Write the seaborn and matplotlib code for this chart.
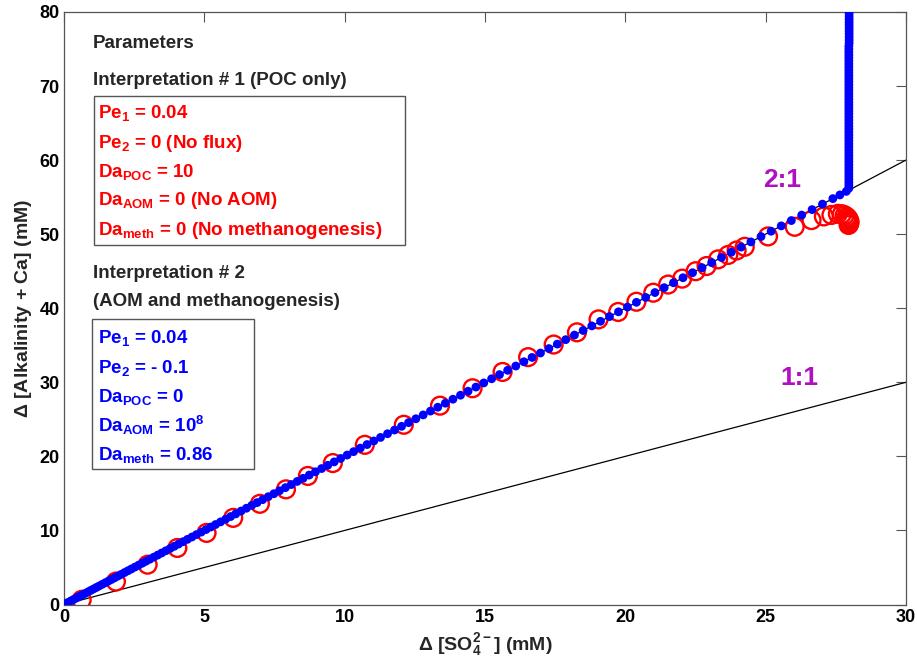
import matplotlib
matplotlib.use("Agg")
import matplotlib.pyplot as plt
import seaborn as sns
import pandas as pd
from matplotlib.patches import Rectangle

# ---------------- data ----------------
ref_x = [0, 30]
ref_21 = [0, 60]
ref_11 = [0, 30]

poc_x = [0.63, 1.85, 2.98, 4.04, 5.08, 6.03, 6.98, 7.91, 8.69, 9.58, 10.72, 12.11,
         13.40, 14.56, 15.63, 16.54, 17.45, 18.28, 19.05, 19.75, 20.40, 21.00, 21.53,
         22.03, 22.51, 22.90, 23.31, 23.67, 23.97, 24.26, 25.09, 26.04, 26.64, 27.08,
         27.35, 27.58, 27.72, 27.82, 27.89, 27.94, 27.97, 27.99, 27.99, 27.98, 27.96]
poc_y = [0.64, 3.10, 5.38, 7.64, 9.67, 11.70, 13.60, 15.55, 17.36, 19.10, 21.56, 24.27,
         26.85, 29.20, 31.40, 33.40, 35.10, 36.75, 38.50, 39.50, 40.88, 42.10, 43.20,
         44.00, 45.00, 45.70, 46.60, 47.20, 47.80, 48.30, 49.70, 51.00, 51.90, 52.40,
         52.60, 52.75, 52.70, 52.55, 52.35, 52.15, 51.95, 51.75, 51.55, 51.40, 51.25]

aom_x = [0.05, 0.15, 0.25, 0.35, 0.45, 0.55, 0.65, 0.75, 0.85, 0.95, 1.05, 1.15, 1.25,
         1.36, 1.47, 1.58, 1.69, 1.80, 1.92, 2.04, 2.16, 2.28, 2.40, 2.53, 2.66, 2.79,
         2.92, 3.06, 3.20, 3.34, 3.48, 3.63, 3.78, 3.93, 4.08, 4.24, 4.40, 4.56, 4.72,
         4.89, 5.06, 5.23, 5.40, 5.58, 5.76, 5.94, 6.12, 6.31, 6.50, 6.69, 6.88, 7.08,
         7.28, 7.48, 7.68, 7.89, 8.10, 8.31, 8.52, 8.74, 8.96, 9.18, 9.40, 9.63, 9.86,
         10.09, 10.32, 10.56, 10.80, 11.04, 11.28, 11.53, 11.78, 12.03, 12.28, 12.54,
         12.80, 13.06, 13.32, 13.59, 13.86, 14.13, 14.40, 14.68, 14.96, 15.24, 15.52,
         15.81, 16.10, 16.39, 16.68, 16.98, 17.28, 17.58, 17.88, 18.19, 18.50, 18.81,
         19.12, 19.44, 19.76, 20.08, 20.40, 20.73, 21.06, 21.39, 21.72, 22.06, 22.40,
         22.74, 23.08, 23.43, 23.78, 24.13, 24.48, 24.84, 25.20, 25.56, 25.92, 26.29,
         26.66, 27.03, 27.40, 27.65, 27.88,
         27.97, 27.97, 27.97, 27.97, 27.97, 27.97, 27.97, 27.97, 27.97, 27.97, 27.97,
         27.97, 27.97, 27.97, 27.97, 27.97, 27.97, 27.97, 27.97, 27.97, 27.97, 27.97,
         27.97, 27.97, 27.97, 27.97, 27.97, 27.97, 27.97, 27.97, 27.97, 27.97, 27.97,
         27.97, 27.97, 27.97, 27.97, 27.97, 27.97, 27.97, 27.97, 27.97, 27.97, 27.97,
         27.97, 27.97, 27.97, 27.97, 27.97, 27.98, 27.98, 27.98, 27.98, 27.98, 27.98,
         27.98, 27.98, 27.98, 27.98, 27.98]
aom_y = [0.10, 0.30, 0.50, 0.70, 0.90, 1.10, 1.30, 1.50, 1.70, 1.90, 2.10, 2.30, 2.50,
         2.72, 2.94, 3.16, 3.38, 3.60, 3.84, 4.08, 4.32, 4.56, 4.80, 5.06, 5.32, 5.58,
         5.84, 6.12, 6.40, 6.68, 6.96, 7.26, 7.56, 7.86, 8.16, 8.48, 8.80, 9.12, 9.44,
         9.78, 10.12, 10.46, 10.80, 11.16, 11.52, 11.88, 12.24, 12.62, 13.00, 13.38,
         13.76, 14.16, 14.56, 14.96, 15.36, 15.78, 16.20, 16.62, 17.04, 17.48, 17.92,
         18.36, 18.80, 19.26, 19.72, 20.18, 20.64, 21.12, 21.60, 22.08, 22.56, 23.06,
         23.56, 24.06, 24.56, 25.08, 25.60, 26.12, 26.64, 27.18, 27.72, 28.26, 28.80,
         29.36, 29.92, 30.48, 31.04, 31.62, 32.20, 32.78, 33.36, 33.96, 34.56, 35.16,
         35.76, 36.38, 37.00, 37.62, 38.24, 38.88, 39.52, 40.16, 40.80, 41.46, 42.12,
         42.78, 43.44, 44.12, 44.80, 45.48, 46.16, 46.86, 47.56, 48.26, 48.96, 49.68,
         50.40, 51.12, 51.84, 52.58, 53.32, 54.06, 54.80, 55.30, 55.78,
         56.20, 56.60, 57.00, 57.40, 57.80, 58.20, 58.60, 59.00, 59.40, 59.80, 60.20,
         60.60, 61.00, 61.40, 61.80, 62.20, 62.60, 63.00, 63.40, 63.80, 64.20, 64.60,
         65.00, 65.40, 65.80, 66.20, 66.60, 67.00, 67.40, 67.80, 68.20, 68.60, 69.00,
         69.40, 69.80, 70.20, 70.60, 71.00, 71.40, 71.80, 72.20, 72.60, 73.00, 73.40,
         73.80, 74.20, 74.60, 75.00, 75.40, 75.80, 76.20, 76.60, 77.00, 77.40, 77.80,
         78.20, 78.60, 79.00, 79.40, 79.80]

x_ticks = [0, 5, 10, 15, 20, 25, 30]
y_ticks = [0, 10, 20, 30, 40, 50, 60, 70, 80]

params1 = ["Pe$_{1}$ = 0.04", "Pe$_{2}$ = 0 (No flux)", "Da$_{POC}$ = 10",
           "Da$_{AOM}$ = 0 (No AOM)", "Da$_{meth}$ = 0 (No methanogenesis)"]
params2 = ["Pe$_{1}$ = 0.04", "Pe$_{2}$ = - 0.1", "Da$_{POC}$ = 0",
           "Da$_{AOM}$ = 10$^{8}$", "Da$_{meth}$ = 0.86"]

# ---------------- style ----------------
sns.set_style("white")
plt.rcParams['font.family'] = ['Liberation Sans', 'DejaVu Sans']
plt.rcParams['font.weight'] = 'bold'
plt.rcParams['mathtext.fontset'] = 'custom'
plt.rcParams['mathtext.rm'] = 'Liberation Sans:bold'
plt.rcParams['mathtext.bf'] = 'Liberation Sans:bold'
plt.rcParams['mathtext.it'] = 'Liberation Sans:bold'
plt.rcParams['mathtext.default'] = 'bf'

fig = plt.figure(figsize=(9.17, 6.66), dpi=100)
ax = fig.add_axes([0.0698, 0.0923, 0.918, 0.8897])

df_poc = pd.DataFrame({"x": poc_x, "y": poc_y})
df_aom = pd.DataFrame({"x": aom_x, "y": aom_y})

ax.plot(ref_x, ref_21, color='black', lw=0.9, zorder=1)
ax.plot(ref_x, ref_11, color='black', lw=0.9, zorder=1)

sns.scatterplot(data=df_poc, x="x", y="y", ax=ax, marker='o', s=165,
                facecolors='none', edgecolor='#FF0000', linewidth=1.7, zorder=2)
sns.scatterplot(data=df_aom, x="x", y="y", ax=ax, marker='o', s=40,
                color='#0000FF', edgecolor='none', linewidth=0, zorder=3)

ax.set_xlim(0, 30)
ax.set_ylim(0, 80)
ax.set_xticks(x_ticks)
ax.set_yticks(y_ticks)
ax.tick_params(direction='in', length=7, width=0.8, top=True, right=True,
               labelsize=13, colors='#555555', labelcolor='black', pad=3)
for lab in ax.get_xticklabels() + ax.get_yticklabels():
    lab.set_fontweight('bold')
for sp in ax.spines.values():
    sp.set_color('#555555')
    sp.set_linewidth(0.9)

ax.set_xlabel(r"$\Delta$ [SO$_{4}^{2-}$] (mM)", fontsize=14, fontweight='bold', labelpad=4)
ax.set_ylabel(r"$\Delta$ [Alkalinity + Ca] (mM)", fontsize=14, fontweight='bold', labelpad=4)

# ---------------- annotations ----------------
ax.text(1.03, 75.7, "Parameters", fontsize=13.5, fontweight='bold', va='center', ha='left')
ax.text(1.03, 70.7, "Interpretation # 1 (POC only)", fontsize=13.5, fontweight='bold',
        va='center', ha='left')
ys1 = [66.4, 62.3, 58.4, 54.5, 50.5]
for t, yy in zip(params1, ys1):
    ax.text(1.2, yy, t, fontsize=13.5, color='#FF0000', va='center', ha='left')
ax.add_patch(Rectangle((1.07, 48.6), 11.08, 20.1, fill=False, edgecolor='#555555', lw=1.0))

ax.text(1.03, 44.7, "Interpretation # 2", fontsize=13.5, fontweight='bold', va='center', ha='left')
ax.text(1.03, 40.9, "(AOM and methanogenesis)", fontsize=13.5, fontweight='bold',
        va='center', ha='left')
ys2 = [36.0, 32.0, 28.0, 24.2, 20.2]
for t, yy in zip(params2, ys2):
    ax.text(1.2, yy, t, fontsize=13.5, color='#0000FF', va='center', ha='left')
ax.add_patch(Rectangle((1.0, 18.3), 5.78, 20.3, fill=False, edgecolor='#555555', lw=1.0))

ax.text(25.6, 57.3, "2:1", fontsize=19, fontweight='bold', color='#B010C0', ha='center', va='center')
ax.text(26.2, 30.6, "1:1", fontsize=19, fontweight='bold', color='#B010C0', ha='center', va='center')

fig.savefig("out.png", dpi=100)
